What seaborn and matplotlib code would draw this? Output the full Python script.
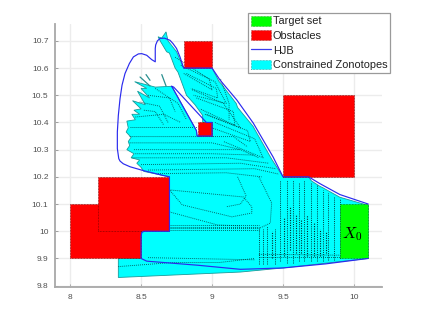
import matplotlib
matplotlib.use("Agg")
import matplotlib.pyplot as plt
import seaborn as sns
from matplotlib.patches import Patch
from matplotlib.lines import Line2D

# --- data ---
obstacles = [(8.0, 8.5, 9.9, 10.1), (8.2, 8.7, 10.0, 10.2), (8.8, 9.0, 10.6, 10.7),
             (8.9, 9.0, 10.35, 10.4), (9.5, 10.0, 10.2, 10.5)]
target = (9.9, 10.1, 9.9, 10.1)

zono_x = [8.34, 8.34, 8.5, 8.5, 8.7, 8.7, 8.52, 8.50, 8.47, 8.49, 8.43, 8.45, 8.40, 8.42, 8.41, 8.43, 8.395, 8.41, 8.40,
          8.46, 8.435, 8.49, 8.45, 8.50, 8.44, 8.53, 8.475, 8.56, 8.50, 8.54, 8.455, 8.6, 8.716,
          8.89, 8.895, 9.0, 9.0, 8.934, 8.934, 8.88, 8.82, 8.76, 8.74, 8.70, 8.68, 8.64, 8.62,
          8.645, 8.676, 8.69, 8.75, 8.8, 9.0, 9.05, 9.06, 9.17, 9.18, 9.29, 9.30, 9.42, 9.5,
          9.68, 9.70, 9.76, 9.78, 9.9, 10.1, 10.1, 9.5, 9.2]
zono_y = [9.83, 9.9, 9.9, 10.0, 10.0, 10.2, 10.22, 10.235, 10.25, 10.262, 10.27, 10.285, 10.30, 10.315, 10.33, 10.345, 10.365, 10.38, 10.405,
          10.41, 10.43, 10.43, 10.445, 10.45, 10.48, 10.465, 10.515, 10.49, 10.525, 10.525, 10.55, 10.53, 10.533,
          10.37, 10.35, 10.35, 10.4, 10.4, 10.426, 10.465, 10.50, 10.585, 10.60, 10.655, 10.66, 10.695, 10.715,
          10.71, 10.733, 10.70, 10.66, 10.6, 10.6, 10.55, 10.545, 10.47, 10.455, 10.385, 10.375, 10.265, 10.2,
          10.2, 10.185, 10.165, 10.16, 10.125, 10.095, 9.9, 9.865, 9.85]

hjb_x = [10.1, 9.9, 9.76, 9.68, 9.5, 9.43, 9.29, 9.174, 9.056, 9.0,
         8.8, 8.775, 8.75, 8.725, 8.704, 8.665, 8.634, 8.615, 8.603, 8.6, 8.6,
         8.575, 8.54, 8.505, 8.481, 8.446, 8.418, 8.387, 8.366, 8.352, 8.34, 8.333, 8.333, 8.343, 8.352, 8.375, 8.423, 8.516, 8.657, 8.7,
         8.7, 8.52, 8.505, 8.5, 8.5, 8.54, 8.9, 9.2, 9.5, 9.8, 10.1]
hjb_y = [10.1, 10.135, 10.175, 10.2, 10.2, 10.273, 10.398, 10.483, 10.556, 10.6,
         10.6, 10.64, 10.672, 10.69, 10.702, 10.71, 10.709, 10.7, 10.685, 10.672, 10.623,
         10.631, 10.647, 10.653, 10.652, 10.641, 10.617, 10.58, 10.537, 10.488, 10.426, 10.365, 10.304, 10.267, 10.258, 10.248, 10.237, 10.223, 10.205, 10.2,
         10.0, 10.0, 9.995, 9.98, 9.9, 9.89, 9.875, 9.86, 9.865, 9.88, 9.9]
inner_x = [8.716, 8.89, 8.895, 9.0, 9.0, 8.96, 8.73, 8.716]
inner_y = [10.533, 10.37, 10.35, 10.35, 10.4, 10.4, 10.53, 10.533]

dotted = [
    ([8.82, 9.03, 9.04, 8.85], [10.58, 10.525, 10.49, 10.525]),
    ([8.74, 8.98, 9.0, 8.80], [10.64, 10.56, 10.52, 10.58]),
    ([8.78, 9.02, 9.1, 8.87], [10.61, 10.55, 10.47, 10.50]),
    ([8.89, 9.15, 9.16, 8.915], [10.49, 10.44, 10.39, 10.45]),
    ([8.86, 9.08, 9.2, 8.96], [10.52, 10.47, 10.38, 10.43]),
    ([8.95, 9.25, 9.27, 9.0], [10.43, 10.37, 10.33, 10.38]),
    ([9.02, 9.3, 9.36, 9.08], [10.40, 10.34, 10.27, 10.33]),
    ([9.06, 9.12, 9.12], [10.56, 10.47, 10.41]),
    ([8.49, 8.63, 8.69], [10.475, 10.46, 10.40]),
    ([8.46, 8.66, 8.78], [10.42, 10.43, 10.40]),
    ([8.55, 8.70, 8.74], [10.50, 10.49, 10.44]),
    ([8.60, 8.76, 8.82], [10.525, 10.47, 10.41]),
    ([8.52, 8.60, 8.66], [10.445, 10.44, 10.39]),
    ([8.42, 8.9], [10.385, 10.385]),
    ([8.42, 9.15, 9.25], [10.348, 10.348, 10.31]),
    ([8.42, 9.0, 9.2], [10.325, 10.325, 10.30]),
    ([8.45, 9.2, 9.33], [10.30, 10.30, 10.27]),
    ([8.44, 9.1, 9.4], [10.27, 10.27, 10.25]),
    ([8.46, 9.0, 9.3], [10.285, 10.285, 10.28]),
    ([8.50, 9.2, 9.45], [10.245, 10.25, 10.23]),
    ([8.55, 9.3, 9.47], [10.225, 10.23, 10.21]),
    ([8.62, 9.1, 9.35], [10.212, 10.215, 10.20]),
    ([8.70, 9.22, 9.28, 9.28, 9.14, 8.79, 8.70], [10.152, 10.126, 10.09, 10.067, 10.053, 10.097, 10.152]),
    ([8.70, 9.04, 9.2], [10.071, 10.023, 10.02]),
    ([8.7, 9.33], [10.023, 10.023]),
    ([8.7, 9.33], [10.017, 10.017]),
    ([8.7, 9.33], [10.011, 10.011]),
    ([8.7, 9.33], [10.005, 10.005]),
    ([8.55, 9.3], [9.903, 9.895]),
    ([8.34, 8.72, 9.05, 9.3], [9.87, 9.885, 9.885, 9.90]),
    ([9.33, 9.42, 9.41, 9.33], [10.2, 10.104, 10.03, 10.01]),
    ([9.18, 9.24, 9.2, 9.1], [10.2, 10.13, 10.1, 10.09]),
    ([9.33, 9.9], [9.905, 9.905]),
    ([9.33, 9.9], [9.915, 9.912]),
]
vert_x = [9.33, 9.36, 9.39, 9.44, 9.48, 9.53, 9.57, 9.61, 9.65, 9.70, 9.74, 9.78, 9.82, 9.86, 9.90]
vert_top = [10.01, 10.01, 10.02, 10.01, 10.19, 10.19, 10.19, 10.18, 10.19, 10.18, 10.17, 10.15, 10.14, 10.13, 10.12]
vert_bot = [9.88, 9.88, 9.88, 9.88, 9.89, 9.885, 9.885, 9.89, 9.89, 9.89, 9.89, 9.89, 9.895, 9.895, 9.90]
dark_x = [9.42, 9.51, 9.55, 9.59, 9.63, 9.67, 9.72, 9.76, 9.80]
dark_top = [10.0, 10.05, 10.09, 10.06, 10.04, 10.06, 10.03, 10.01, 10.0]
dark_bot = [9.9, 9.91, 9.93, 9.92, 9.92, 9.91, 9.91, 9.91, 9.92]
stray = [([8.493, 8.563], [10.567, 10.534]), ([8.535, 8.563], [10.576, 10.555]), ([8.646, 8.676], [10.576, 10.534])]

xticks = [8, 8.5, 9, 9.5, 10]
xticklabels = ["8", "8.5", "9", "9.5", "10"]
yticks = [9.8, 9.9, 10, 10.1, 10.2, 10.3, 10.4, 10.5, 10.6, 10.7]
yticklabels = ["9.8", "9.9", "10", "10.1", "10.2", "10.3", "10.4", "10.5", "10.6", "10.7"]
legend_labels = ["Target set", "Obstacles", "HJB", "Constrained Zonotopes"]

# --- drawing ---
sns.set_theme(style="whitegrid")
plt.rcParams["font.family"] = ["Liberation Sans", "DejaVu Sans"]
plt.rcParams["mathtext.fontset"] = "cm"

fig = plt.figure(figsize=(4.23, 3.24), dpi=100)
W, H = 423.0, 324.0
ax = fig.add_axes([55.3 / W, (H - 287) / H, (382 - 55.3) / W, (287 - 24) / H])

dot = (0, (1, 1.2))
ax.fill(zono_x, zono_y, facecolor="#00ffff", edgecolor="#1a9a9a", lw=0.6, zorder=2)
for xs, ys in dotted:
    ax.plot(xs, ys, color="#003c3c", lw=0.65, ls=dot, alpha=0.85, zorder=3)
for x0, t, b in zip(vert_x, vert_top, vert_bot):
    ax.plot([x0, x0], [b, t], color="#002a2a", lw=0.7, ls=dot, alpha=0.9, zorder=3)
for x0, t, b in zip(dark_x, dark_top, dark_bot):
    ax.plot([x0, x0], [b, t], color="#001515", lw=0.8, ls=dot, alpha=0.9, zorder=3)
for xs, ys in stray:
    ax.plot(xs, ys, color="#2a8f8f", lw=0.9, zorder=3)

for x0, x1, y0, y1 in obstacles:
    ax.fill([x0, x1, x1, x0], [y0, y0, y1, y1], facecolor="#ff0000", edgecolor="#660000",
            lw=0.5, ls=dot, zorder=4)
x0, x1, y0, y1 = target
ax.fill([x0, x1, x1, x0], [y0, y0, y1, y1], facecolor="#00ff00", edgecolor="#006600",
        lw=0.5, ls=dot, zorder=4)

sns.lineplot(x=hjb_x, y=hjb_y, sort=False, estimator=None, color="#2a2aee", lw=0.85, ax=ax, zorder=5)
sns.lineplot(x=inner_x, y=inner_y, sort=False, estimator=None, color="#2a2aee", lw=0.85, ax=ax, zorder=5)

ax.text(9.99, 9.99, r"$X_0$", fontsize=11.5, ha="center", va="center", color="black", zorder=6)

ax.set_xlim(7.896, 10.197)
ax.set_ylim(9.795, 10.762)
ax.set_xticks(xticks, xticklabels)
ax.set_yticks(yticks, yticklabels)
ax.grid(True, color="#ececec", lw=1.0)
ax.set_axisbelow(True)
ax.set_facecolor("white")
for s in ("top", "right"):
    ax.spines[s].set_visible(False)
for s in ("left", "bottom"):
    ax.spines[s].set_visible(True)
    ax.spines[s].set_color("#a8a8a8")
    ax.spines[s].set_linewidth(1.3)
ax.tick_params(axis="both", labelsize=6, labelcolor="#505050", length=2, width=0.5,
               color="#808080", direction="in", pad=5, left=True, bottom=True)

handles = [
    Patch(facecolor="#00ff00", edgecolor="#006600", lw=0.4, ls=":"),
    Patch(facecolor="#ff0000", edgecolor="#660000", lw=0.4, ls=":"),
    Line2D([0], [0], color="#3a3aee", lw=0.9),
    Patch(facecolor="#00ffff", edgecolor="#006666", lw=0.4, ls=":"),
]
leg = fig.legend(handles, legend_labels, loc="upper left",
                 bbox_to_anchor=(248 / W, 1 - 13 / H), bbox_transform=fig.transFigure,
                 fontsize=7.9, frameon=True, fancybox=False, framealpha=1, edgecolor="#9a9a9a",
                 borderpad=0.25, labelspacing=0.36, handlelength=1.85, handleheight=1.0, handletextpad=0.15,
                 borderaxespad=0, labelcolor="#222222")
leg.get_frame().set_linewidth(0.9)
leg.set_zorder(10)

fig.savefig("out.png", dpi=100)
